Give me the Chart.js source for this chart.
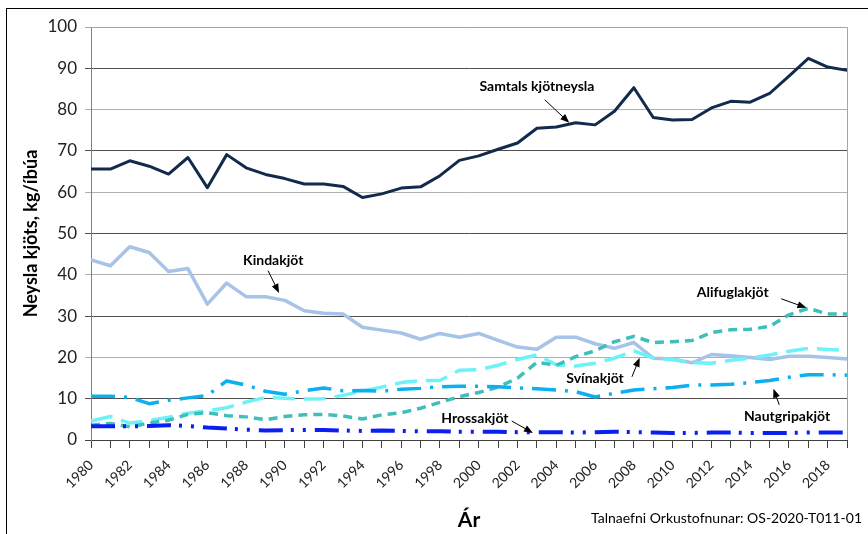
<!DOCTYPE html>
<html><head><meta charset="utf-8">
<script src="https://cdn.jsdelivr.net/npm/chart.js@4.4.1/dist/chart.umd.min.js"></script>
<style>
html,body{margin:0;padding:0;background:#fff;overflow:hidden;}
#wrap{position:relative;width:868px;height:534px;overflow:hidden;}
#frame{position:absolute;left:6px;top:8px;width:1000px;height:1000px;border-left:1px solid #000;border-top:1px solid #000;}
canvas{position:absolute;left:0;top:0;}
</style></head><body>
<div id="wrap"><div id="frame"></div><canvas id="c" width="868" height="534"></canvas></div>
<script>
const years = ['1980','1981','1982','1983','1984','1985','1986','1987','1988','1989',
  '1990','1991','1992','1993','1994','1995','1996','1997','1998','1999',
  '2000','2001','2002','2003','2004','2005','2006','2007','2008','2009',
  '2010','2011','2012','2013','2014','2015','2016','2017','2018','2019'];

const samtals = [65.6,65.6,67.6,66.3,64.4,68.4,61.1,69.1,65.9,64.3,
  63.3,62.0,62.0,61.4,58.7,59.6,61.0,61.3,64.0,67.7,
  68.8,70.4,71.9,75.5,75.8,76.8,76.3,79.6,85.3,78.1,
  77.5,77.6,80.4,82.0,81.8,83.9,88.1,92.4,90.3,89.5];
const kindakjot = [43.6,42.2,46.8,45.4,40.8,41.5,32.9,38.0,34.7,34.7,
  33.8,31.3,30.7,30.5,27.3,26.6,25.9,24.4,25.8,24.9,
  25.8,24.1,22.5,22.0,24.9,24.9,23.3,22.2,23.6,19.8,
  19.6,18.7,20.7,20.4,20.0,19.5,20.3,20.3,20.0,19.6];
const alifuglakjot = [3.6,4.0,3.2,4.1,4.8,6.2,6.6,5.9,5.6,4.9,
  5.7,6.1,6.2,5.8,5.1,6.1,6.6,7.7,9.1,10.5,
  11.5,12.8,15.0,18.8,18.1,20.2,21.6,23.8,25.1,23.6,
  23.8,24.1,26.0,26.7,26.8,27.5,30.3,31.9,30.5,30.5];
const svinakjot = [4.6,5.7,4.1,4.7,5.5,6.5,7.1,7.8,9.2,10.3,
  10.1,9.9,10.0,10.8,11.9,12.8,13.9,14.4,14.4,16.9,
  17.0,18.1,19.5,20.6,18.2,17.9,18.6,19.8,21.6,19.8,
  19.4,18.7,18.6,19.3,19.8,20.6,21.5,22.2,21.9,21.7];
const nautgripakjot = [10.6,10.6,10.3,8.8,9.6,10.2,10.8,14.3,13.3,11.8,
  11.1,11.9,12.6,11.9,12.0,11.8,12.3,12.5,12.9,13.0,
  13.0,12.9,12.6,12.4,12.1,11.7,10.4,11.3,12.1,12.4,
  12.7,13.3,13.3,13.5,13.9,14.4,15.2,15.8,15.8,15.7];
const hrossakjot = [3.3,3.3,3.3,3.4,3.6,3.4,3.0,2.8,2.5,2.3,
  2.4,2.4,2.4,2.3,2.2,2.3,2.2,2.1,2.1,2.0,
  2.0,2.0,1.9,1.9,1.9,1.8,1.9,2.0,1.9,1.8,
  1.7,1.7,1.8,1.8,1.7,1.7,1.7,1.8,1.8,1.8];

const yTicks = [0,10,20,30,40,50,60,70,80,90,100];

// annotation anchors in data coordinates: [category index, value]
const notes = [
  {text:'Samtals kjötneysla', at:[23.0,85.6], from:[23.4,82.4], to:[24.67,76.8]},
  {text:'Kindakjöt', at:[9.4,43.4], from:[9.13,41.0], to:[9.7,35.6]},
  {text:'Alifuglakjöt', at:[33.1,35.6], from:[35.6,34.2], to:[36.9,32.0]},
  {text:'Svínakjöt', at:[26.0,15.0], from:[27.9,15.3], to:[28.3,19.9]},
  {text:'Nautgripakjöt', at:[35.9,5.8], from:[35.5,8.5], to:[35.2,12.4]},
  {text:'Hrossakjöt', at:[19.8,5.3], from:[21.7,4.6], to:[22.8,1.7]}
];

const FONT = 'Lato, "Open Sans", sans-serif';

const notePlugin = {
  id:'notes',
  afterDatasetsDraw(chart){
    const ctx = chart.ctx, xs = chart.scales.x, ys = chart.scales.y;
    const ca = chart.chartArea;
    ctx.save();
    ctx.strokeStyle = '#a6a6a6'; ctx.lineWidth = 1;
    ctx.beginPath();
    ctx.moveTo(ca.left, Math.round(ca.top)+0.5);
    ctx.lineTo(Math.round(ca.right)+0.5, Math.round(ca.top)+0.5);
    ctx.lineTo(Math.round(ca.right)+0.5, ca.bottom);
    ctx.stroke();
    ctx.font = 'bold 14px ' + FONT;
    ctx.fillStyle = '#000';
    ctx.textAlign = 'center'; ctx.textBaseline = 'middle';
    notes.forEach(n => {
      ctx.fillText(n.text, xs.getPixelForValue(n.at[0]), ys.getPixelForValue(n.at[1]));
      const x1 = xs.getPixelForValue(n.from[0]), y1 = ys.getPixelForValue(n.from[1]);
      const x2 = xs.getPixelForValue(n.to[0]), y2 = ys.getPixelForValue(n.to[1]);
      const a = Math.atan2(y2-y1, x2-x1);
      ctx.strokeStyle = '#000'; ctx.lineWidth = 1;
      ctx.beginPath(); ctx.moveTo(x1,y1); ctx.lineTo(x2 - 6*Math.cos(a), y2 - 6*Math.sin(a)); ctx.stroke();
      ctx.beginPath();
      ctx.moveTo(x2,y2);
      ctx.lineTo(x2 - 9*Math.cos(a) + 3.5*Math.sin(a), y2 - 9*Math.sin(a) - 3.5*Math.cos(a));
      ctx.lineTo(x2 - 9*Math.cos(a) - 3.5*Math.sin(a), y2 - 9*Math.sin(a) + 3.5*Math.cos(a));
      ctx.closePath(); ctx.fill();
    });
    ctx.font = '14px ' + FONT;
    ctx.textAlign = 'right'; ctx.textBaseline = 'middle';
    ctx.fillText('Talnaefni Orkustofnunar: OS-2020-T011-01', chart.width - 6, 518);
    ctx.restore();
  }
};

const ds = (label, data, color, width, dash) => ({
  label, data, borderColor: color, backgroundColor: color, borderWidth: width,
  borderDash: dash || [], pointRadius: 0, pointHoverRadius: 0, tension: 0, fill: false,
  borderCapStyle: 'butt', borderJoinStyle: 'round'
});

new Chart(document.getElementById('c'), {
  type: 'line',
  data: {
    labels: years,
    datasets: [
      ds('Hrossakjöt', hrossakjot, '#0b1ff0', 4, [24,8,3,9,3,9]),
      ds('Nautgripakjöt', nautgripakjot, '#0cb0f0', 3.5, [24,9,3,9]),
      ds('Alifuglakjöt', alifuglakjot, '#3fbfb9', 3.5, [9,6]),
      ds('Svínakjöt', svinakjot, '#6cf2f7', 3.5, [22,9]),
      ds('Kindakjöt', kindakjot, '#a7c3e7', 3.5),
      ds('Samtals kjötneysla', samtals, '#122a4c', 3)
    ]
  },
  options: {
    responsive: false,
    animation: false,
    devicePixelRatio: 1,
    layout: { padding: { left: 16, top: 27, right: 17, bottom: 0 } },
    plugins: { legend: { display: false }, tooltip: { enabled: false } },
    scales: {
      x: {
        type: 'category',
        offset: false,
        afterFit(s){ s.height = 94; },
        grid: { drawOnChartArea: false, drawTicks: true, tickLength: 8, color: '#404040' },
        border: { display: true, color: '#404040', width: 1 },
        ticks: {
          autoSkip: false, maxRotation: 45, minRotation: 45, padding: 9,
          color: '#222', font: { family: FONT, size: 14 },
          callback(v, i){ return i % 2 === 0 ? years[i] : ''; }
        },
        title: { display: true, text: 'Ár', color: '#000', font: { family: FONT, size: 21, weight: 'bold' }, padding: { top: 0, bottom: 1 } }
      },
      y: {
        min: 0, max: 100,
        afterFit(s){ s.width = 75; },
        afterBuildTicks(s){ s.ticks = yTicks.map(v => ({ value: v })); },
        grid: {
          drawTicks: true, tickLength: 6,
          color(c){ const v = c.tick ? c.tick.value : 0; if (v === 0) return '#404040'; if (v === 100) return '#a6a6a6'; return (v % 20 === 10) ? '#505050' : '#b0b0b0'; }
        },
        border: { display: true, color: '#808080', width: 1 },
        ticks: { padding: 8, color: '#222', font: { family: FONT, size: 17 } },
        title: { display: true, text: 'Neysla kjöts, kg/íbúa', color: '#000', font: { family: FONT, size: 18, weight: 'bold' }, padding: { top: 4, bottom: 0 } }
      }
    }
  },
  plugins: [notePlugin]
});
</script>
</body></html>
